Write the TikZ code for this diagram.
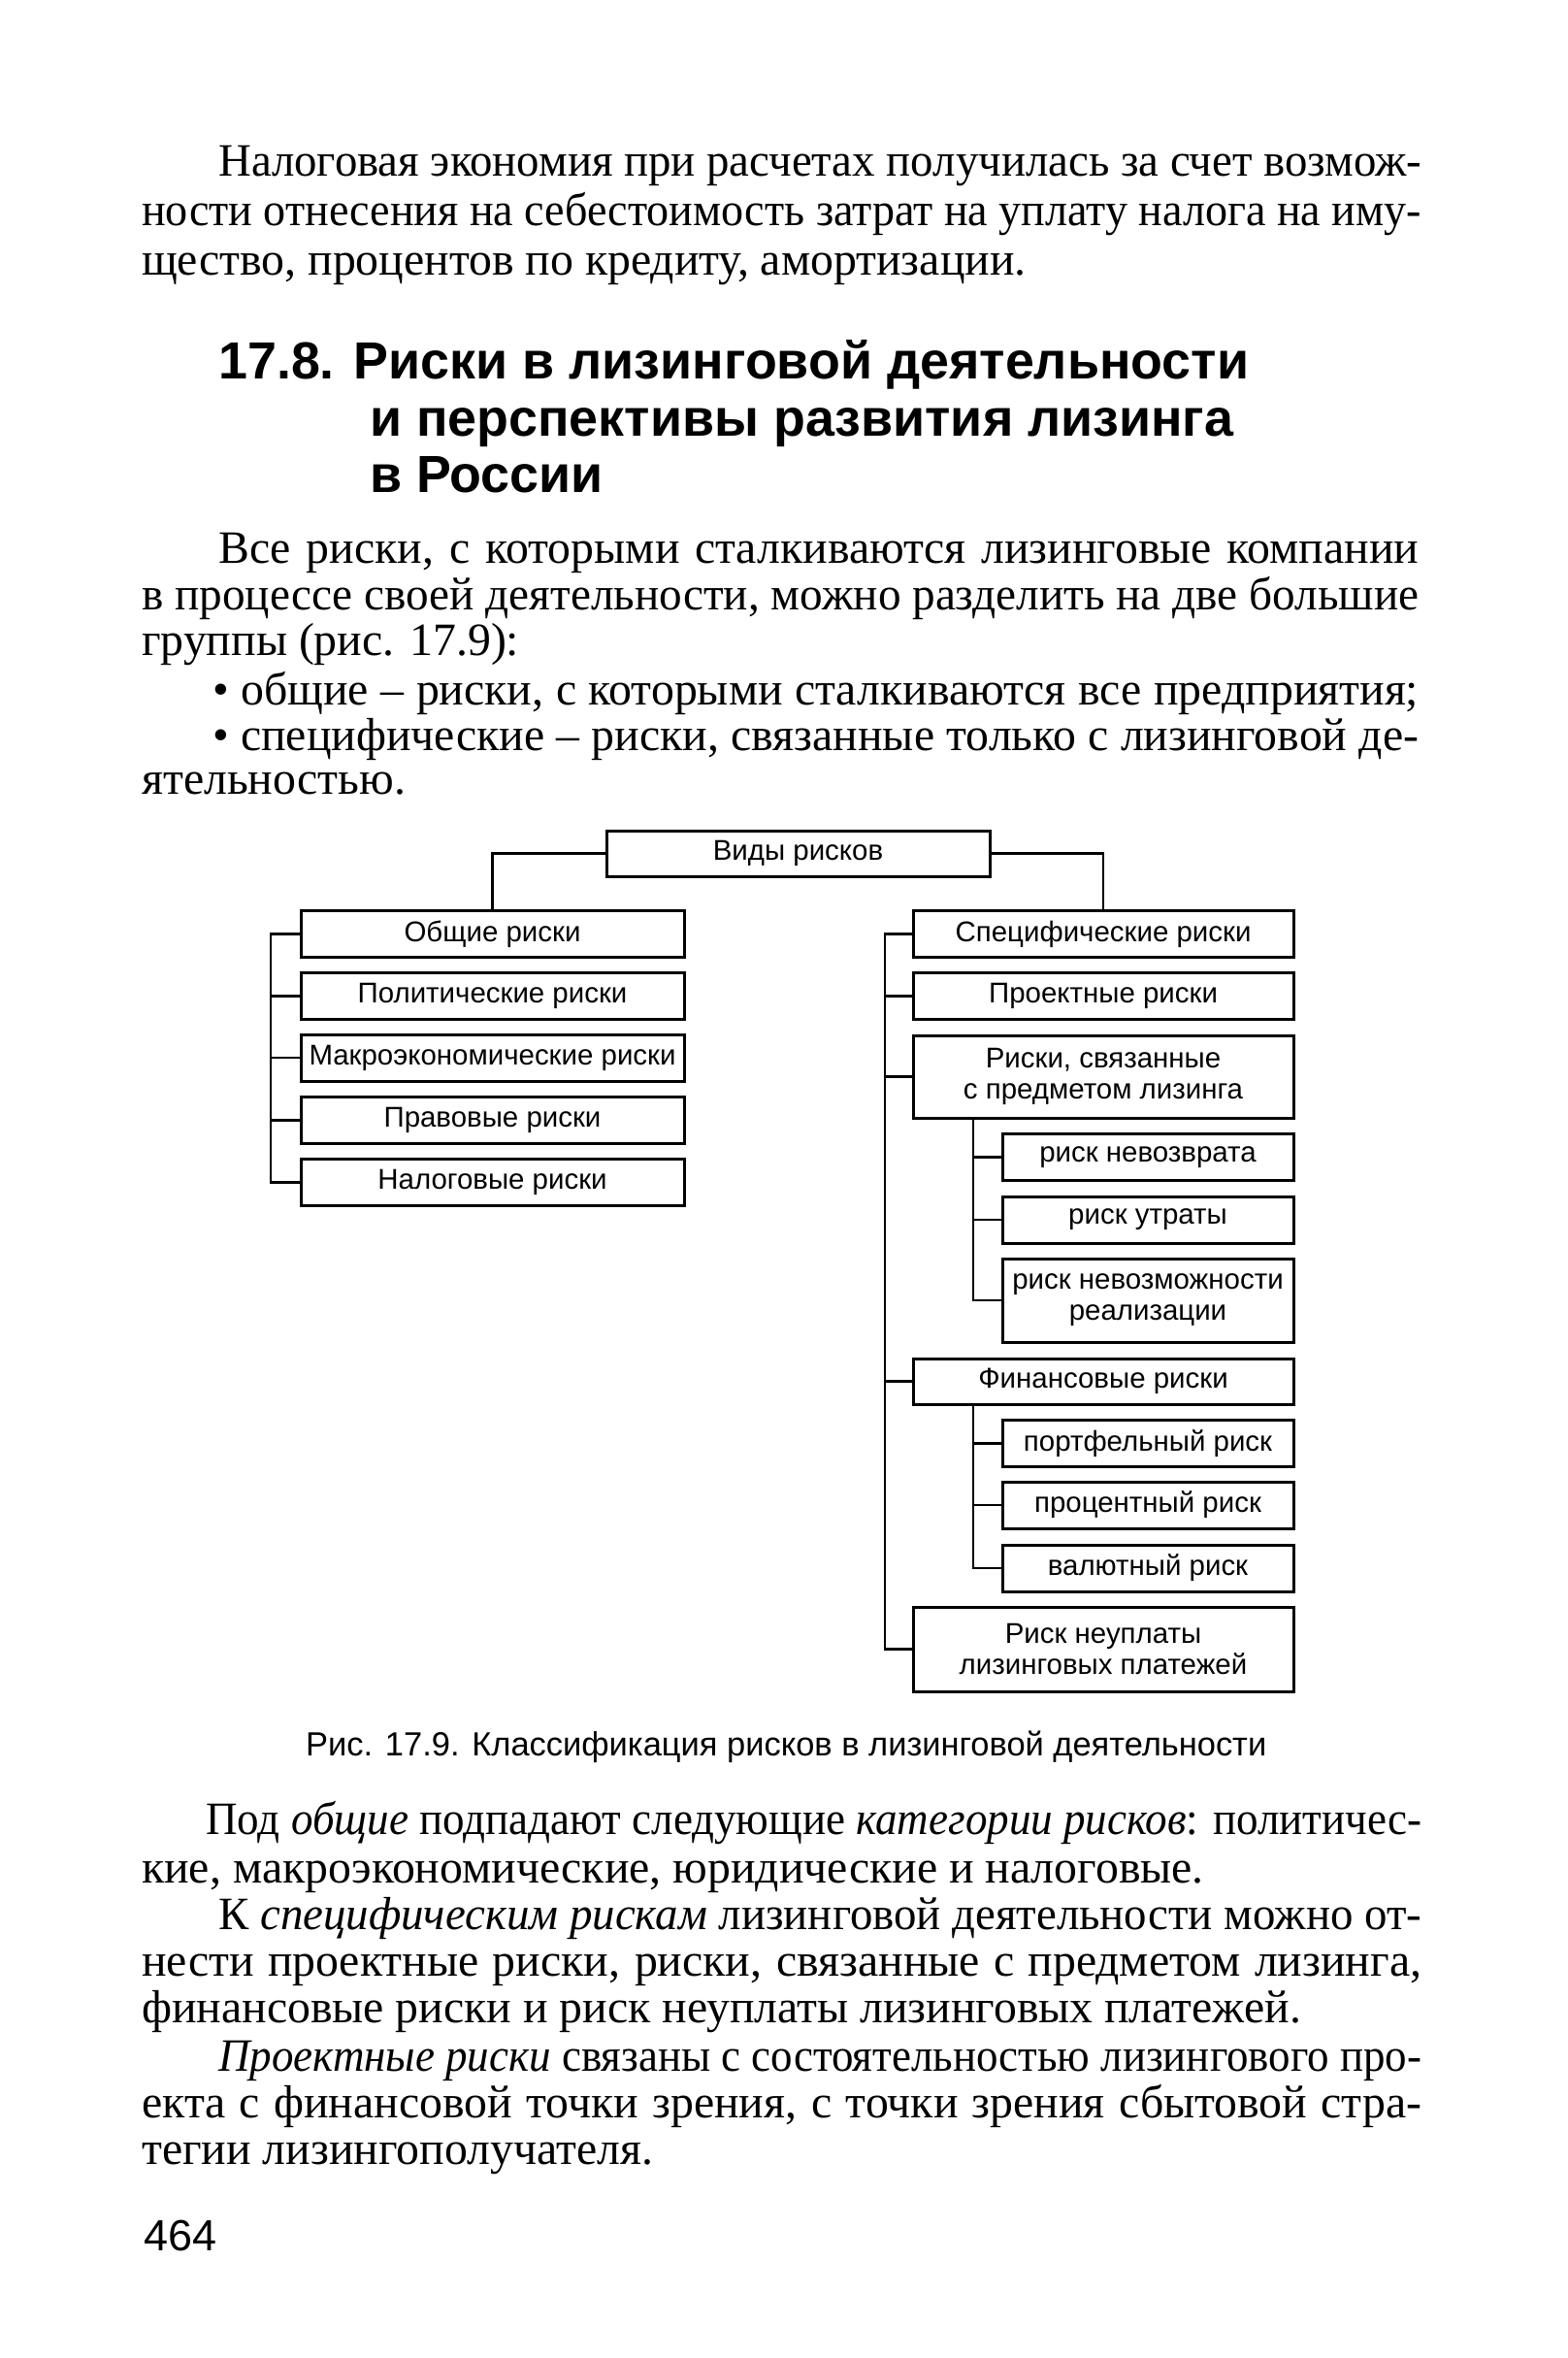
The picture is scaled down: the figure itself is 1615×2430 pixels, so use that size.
\documentclass[tikz,border=0pt]{standalone}
\usepackage{fontspec}
\usepackage{graphicx}
\newfontfamily\bodyf{Liberation Serif}
\newfontfamily\sansf{Liberation Sans}
\newlength\mymw
\newcommand\fitsize[4]{\settowidth\mymw{#2\fontsize{10pt}{12pt}\selectfont #4}\pgfmathsetmacro#1{10*#3/\mymw}}
\newcommand\jline[2]{\settowidth\mymw{#2}\ifdim\mymw>#1pt\relax\resizebox{#1pt}{\height}{#2}\else\makebox[#1pt][s]{#2}\fi}
\tikzset{
  bodyline/.style={anchor=base west, inner sep=0pt, font=\bodyf\fontsize{\szbody pt}{51pt}\selectfont},
  headline/.style={anchor=base west, inner sep=0pt, font=\sansf\bfseries\fontsize{\szhead pt}{60pt}\selectfont},
  capline/.style={anchor=base west, inner sep=0pt, font=\sansf\fontsize{\szcap pt}{40pt}\selectfont},
  pageline/.style={anchor=base west, inner sep=0pt, font=\sansf\fontsize{\szpage pt}{40pt}\selectfont},
  rbox/.style={draw, line width=3pt, rectangle, inner sep=0pt, minimum height=48pt, align=center, font=\sansf\fontsize{\szdia pt}{32pt}\selectfont},
  wire/.style={line width=2.6pt},
}
\begin{document}%
\fitsize{\szbody}{\bodyf}{1367}{ности отнесения на себестоимость затрат на уплату налога на иму-}%
\fitsize{\szhead}{\sansf\bfseries}{1062}{17.8. Риски в лизинговой деятельности}%
\fitsize{\szdia}{\sansf}{378}{Макроэкономические риски}%
\fitsize{\szcap}{\sansf}{990}{Рис. 17.9. Классификация рисков в лизинговой деятельности}%
\fitsize{\szpage}{\sansf}{75}{464}%
\begin{tikzpicture}[x=1pt,y=-1pt]
\fill[white] (0,0) rectangle (1615,2430);
\useasboundingbox (0,0) rectangle (1615,2430);

% paragraph 1
\node[bodyline] (t1) at (225,181) {\jline{1240}{Налоговая экономия при расчетах получилась за счет возмож-}};
\node[bodyline] (t2) at (146,232) {\jline{1319}{ности отнесения на себестоимость затрат на уплату налога на иму-}};
\node[bodyline] (t3) at (146,283) {щество, процентов по кредиту, амортизации.};

% heading
\node[headline] (h1) at (225,390) {17.8. Риски в лизинговой деятельности};
\node[headline] (h2) at (381,449) {и перспективы развития лизинга};
\node[headline] (h3) at (381,507) {в России};

% paragraph 2
\node[bodyline] (t4) at (225,580) {\jline{1237}{Все риски, с которыми сталкиваются лизинговые компании}};
\node[bodyline] (t5) at (146,628) {\jline{1316}{в процессе своей деятельности, можно разделить на две большие}};
\node[bodyline] (t6) at (146,675) {группы (рис. 17.9):};
\node[bodyline] (t7) at (219,726) {\jline{1243}{• общие – риски, с которыми сталкиваются все предприятия;}};
\node[bodyline] (t8) at (219,773) {\jline{1243}{• специфические – риски, связанные только с лизинговой де-}};
\node[bodyline] (t9) at (146,818) {ятельностью.};

% diagram
\node[rbox, minimum width=395pt, minimum height=47pt] (vid) at (822.5,879.5) {Виды рисков};

\node[rbox, minimum width=395pt] (obsh)  at (507.5,962.5)  {Общие риски};
\node[rbox, minimum width=395pt] (polit) at (507.5,1026.5) {Политические риски};
\node[rbox, minimum width=395pt] (makro) at (507.5,1090)   {Макроэкономические риски};
\node[rbox, minimum width=395pt] (prav)  at (507.5,1154.5) {Правовые риски};
\node[rbox, minimum width=395pt] (nalog) at (507.5,1218.5) {Налоговые риски};

\node[rbox, minimum width=392pt] (spec)    at (1137,962.5)  {Специфические риски};
\node[rbox, minimum width=392pt] (proekt)  at (1137,1026.5) {Проектные риски};
\node[rbox, minimum width=392pt, minimum height=85pt] (predmet) at (1137,1109.5) {Риски, связанные\\с предметом лизинга};
\node[rbox, minimum width=392pt, minimum height=47pt] (fin)     at (1137,1423.5) {Финансовые риски};
\node[rbox, minimum width=392pt, minimum height=87pt] (neupl)   at (1137,1699.5) {Риск неуплаты\\лизинговых платежей};

\node[rbox, minimum width=300pt] (nevozvr) at (1183,1192.5) {риск невозврата};
\node[rbox, minimum width=300pt] (utrata)  at (1183,1257)   {риск утраты};
\node[rbox, minimum width=300pt, minimum height=86pt] (nevozm) at (1183,1340) {риск невозможности\\реализации};
\node[rbox, minimum width=300pt] (portf)   at (1183,1487.5) {портфельный риск};
\node[rbox, minimum width=300pt] (proc)    at (1183,1551)   {процентный риск};
\node[rbox, minimum width=300pt] (val)     at (1183,1616)   {валютный риск};

\draw[wire] (vid.west) -| (obsh.north);
\draw[wire] (vid.east) -| (spec.north);

\coordinate (lbus) at (279,962.5);
\draw[wire] (obsh.west) -- (obsh.west -| lbus) |- (nalog.west);
\foreach \n in {polit,makro,prav} \draw[wire] (\n.west) -- (\n.west -| lbus);

\coordinate (rbus) at (912,962.5);
\draw[wire] (spec.west) -- (spec.west -| rbus) |- (neupl.west);
\foreach \n in {proekt,predmet,fin} \draw[wire] (\n.west) -- (\n.west -| rbus);

\coordinate (sbus) at (1003,0);
\draw[wire] (predmet.south -| sbus) |- (nevozm.west);
\foreach \n in {nevozvr,utrata} \draw[wire] (\n.west) -- (\n.west -| sbus);
\draw[wire] (fin.south -| sbus) |- (val.west);
\foreach \n in {portf,proc} \draw[wire] (\n.west) -- (\n.west -| sbus);

% caption
\node[capline] (cap) at (315,1809) {Рис. 17.9. Классификация рисков в лизинговой деятельности};

% paragraph 3
\node[bodyline] (u1) at (212,1890) {\jline{1253}{Под \textit{общие} подпадают следующие \textit{категории рисков}: политичес-}};
\node[bodyline] (u2) at (146,1940) {кие, макроэкономические, юридические и налоговые.};
\node[bodyline] (u3) at (225,1988) {\jline{1240}{К \textit{специфическим рискам} лизинговой деятельности можно от-}};
\node[bodyline] (u4) at (146,2036) {\jline{1319}{нести проектные риски, риски, связанные с предметом лизинга,}};
\node[bodyline] (u5) at (146,2084) {финансовые риски и риск неуплаты лизинговых платежей.};
\node[bodyline] (u6) at (225,2134) {\jline{1240}{\textit{Проектные риски} связаны с состоятельностью лизингового про-}};
\node[bodyline] (u7) at (146,2182) {\jline{1319}{екта с финансовой точки зрения, с точки зрения сбытовой стра-}};
\node[bodyline] (u8) at (146,2230) {тегии лизингополучателя.};

% page number
\node[pageline] (pg) at (148,2319) {464};
\end{tikzpicture}
\end{document}
